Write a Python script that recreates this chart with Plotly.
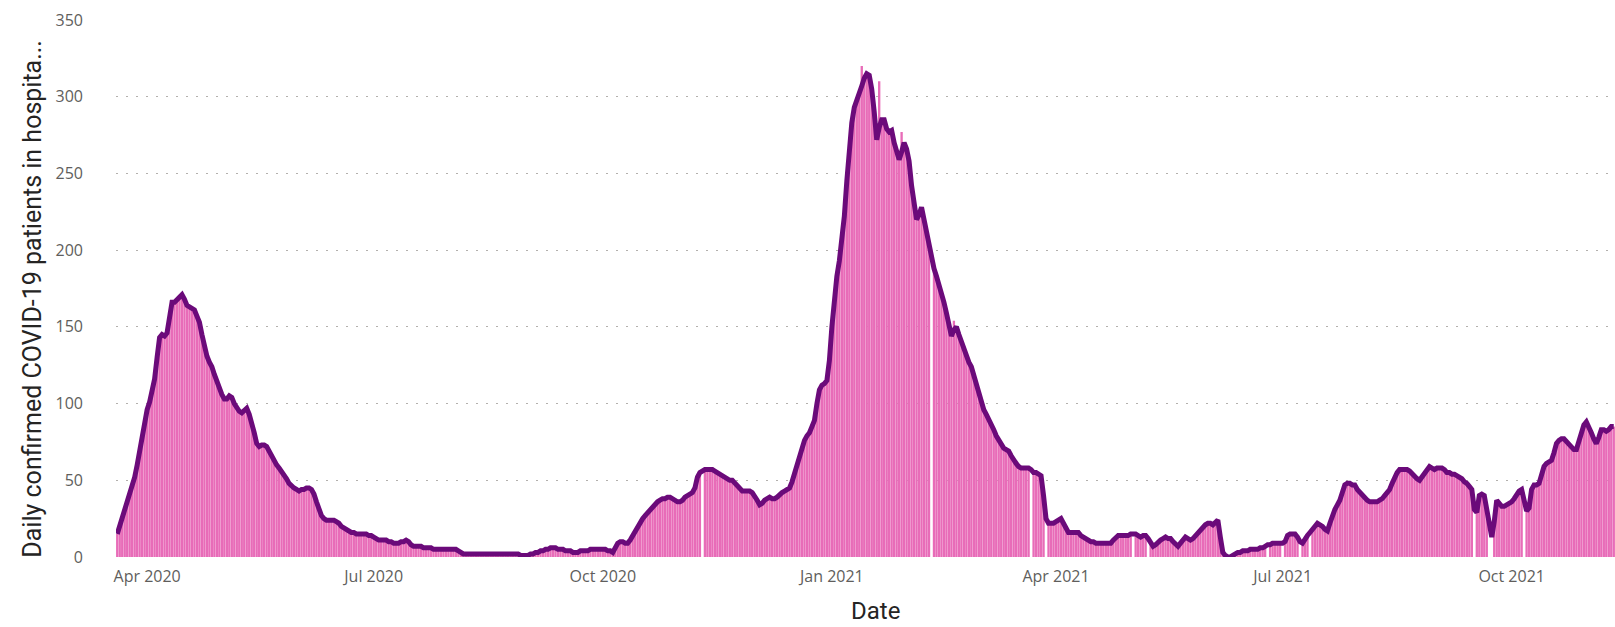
import pandas as pd
import plotly.graph_objects as go

# daily patients in hospital, first value is 20 Mar 2020
start_date = "2020-03-20"

mar_2020 = [15, 20, 26, 31, 36, 41, 46, 52, 60, 70, 80, 89]
apr_2020 = [96, 101, 107, 116, 130, 143, 145, 144, 146, 158, 166, 166, 168, 170, 171,
            168, 164, 163, 162, 161, 157, 153, 145, 136, 131, 127, 124, 119, 114, 110]
may_2020 = [106, 103, 103, 105, 104, 100, 97, 95, 94, 96, 97, 93, 88, 81, 74, 72,
            73, 73, 72, 69, 65, 62, 60, 58, 56, 54, 51, 48, 46, 45, 44]
jun_2020 = [43, 44, 44, 45, 45, 44, 41, 36, 31, 27, 25, 24, 24, 24, 24,
            23, 22, 20, 19, 18, 17, 16, 16, 15, 15, 15, 15, 15, 14, 14]
jul_2020 = [13, 12, 11, 11, 11, 11, 10, 10, 9, 9, 9, 10, 10, 11, 10, 8,
            7, 7, 7, 7, 6, 6, 6, 6, 5, 5, 5, 5, 5, 5, 5]
aug_2020 = [5, 5, 5, 4, 3, 2, 2, 2, 2, 2, 2, 2, 2, 2, 2, 2,
            2, 2, 2, 2, 2, 2, 2, 2, 2, 2, 2, 2, 1, 1, 1]
sep_2020 = [1, 2, 2, 3, 3, 4, 4, 5, 5, 6, 6, 6, 5, 5, 5,
            4, 4, 4, 3, 3, 3, 4, 4, 4, 4, 5, 5, 5, 5, 5]
oct_2020 = [5, 5, 4, 4, 3, 6, 9, 10, 10, 9, 9, 11, 14, 16, 19, 23,
            25, 27, 29, 31, 33, 35, 36, 37, 38, 38, 39, 39, 38, 37, 36]
nov_2020 = [36, 37, 39, 40, 41, 42, 45, 52, 55, 56, 57, 57, 57, 57, 56,
            55, 54, 53, 52, 51, 50, 50, 48, 46, 44, 43, 43, 43, 43, 42]
dec_2020 = [40, 37, 34, 35, 37, 38, 39, 38, 38, 39, 41, 42, 43, 44, 45, 49,
            55, 61, 67, 72, 76, 79, 81, 85, 89, 100, 109, 112, 113, 115, 128]
jan_2021 = [150, 170, 183, 193, 207, 222, 245, 266, 283, 293, 297, 301, 307, 312, 315, 314,
            305, 290, 272, 280, 285, 285, 279, 277, 278, 270, 265, 259, 264, 270, 266]
feb_2021 = [258, 242, 228, 220, 223, 228, 220, 212, 202, 193, 188, 183, 178, 173,
            166, 159, 151, 144, 148, 150, 145, 140, 135, 131, 127, 124, 118, 112]
mar_2021 = [107, 101, 96, 93, 90, 87, 83, 79, 76, 73, 71, 70, 69, 66, 63, 61,
            59, 58, 58, 58, 58, 57, 55, 55, 54, 53, 40, 25, 22, 22, 22]
apr_2021 = [23, 24, 25, 22, 18, 16, 16, 16, 16, 16, 14, 13, 12, 11, 10,
            10, 9, 9, 9, 9, 9, 9, 9, 11, 13, 14, 14, 14, 14, 14]
may_2021 = [15, 15, 15, 14, 13, 14, 14, 12, 9, 7, 8, 10, 11, 12, 13, 12,
            12, 10, 8, 7, 9, 11, 13, 12, 11, 12, 14, 16, 18, 19, 21]
jun_2021 = [22, 22, 21, 23, 24, 13, 3, 1, 0, 0, 1, 2, 3, 3, 4,
            4, 4, 5, 5, 5, 5, 6, 6, 7, 8, 8, 9, 9, 9, 9]
jul_2021 = [9, 10, 14, 15, 15, 15, 13, 10, 9, 12, 14, 16, 18, 20, 22, 21,
            20, 18, 17, 22, 27, 31, 34, 37, 42, 47, 48, 48, 47, 47, 44]
aug_2021 = [42, 40, 38, 37, 36, 36, 36, 36, 37, 38, 40, 42, 44, 48, 52, 55,
            57, 57, 57, 57, 56, 54, 53, 51, 50, 52, 55, 57, 59, 58, 57]
sep_2021 = [58, 58, 58, 57, 55, 55, 54, 54, 53, 52, 51, 49, 48, 46, 44,
            31, 29, 40, 41, 40, 31, 18, 13, 23, 37, 35, 33, 33, 34, 35]
oct_2021 = [36, 38, 41, 43, 44, 37, 30, 32, 44, 47, 47, 48, 54, 59, 61, 62,
            63, 68, 74, 76, 77, 77, 75, 73, 71, 70, 70, 76, 83, 86, 88]
nov_2021 = [85, 81, 77, 74, 78, 83, 83, 82, 83, 85, 85]

# days with no bar reported
missing_dates = ["2020-11-10", "2021-02-10", "2021-03-22", "2021-03-28", "2021-05-02",
                 "2021-05-08", "2021-06-25", "2021-07-01", "2021-07-08", "2021-07-12",
                 "2021-09-16", "2021-09-22", "2021-09-23", "2021-10-06"]
# days where the bar sits above the line
peak_dates = ["2021-01-13", "2021-01-20", "2021-01-29", "2021-02-19"]
peak_values = [320, 310, 277, 154]

patients = (mar_2020 + apr_2020 + may_2020 + jun_2020 + jul_2020 + aug_2020
            + sep_2020 + oct_2020 + nov_2020 + dec_2020 + jan_2021 + feb_2021
            + mar_2021 + apr_2021 + may_2021 + jun_2021 + jul_2021 + aug_2021
            + sep_2021 + oct_2021 + nov_2021)

df = pd.DataFrame({
    "date": pd.date_range(start_date, periods=len(patients), freq="D"),
    "patients": patients,
})
df["bar"] = df["patients"].astype(float)
df.loc[df["date"].isin(pd.to_datetime(peak_dates)), "bar"] = peak_values
df.loc[df["date"].isin(pd.to_datetime(missing_dates)), "bar"] = None

axis_font = dict(family="Open Sans, Noto Sans, sans-serif", size=16, color="#605E5C")
title_font = dict(family="Roboto, sans-serif", size=25, color="#252423")

fig = go.Figure()
fig.add_trace(
    go.Bar(
        x=df["date"],
        y=df["bar"],
        marker=dict(color="#E86CB8", line_width=0),
        hoverinfo="x+y",
    )
)
fig.add_trace(
    go.Scatter(
        x=df["date"],
        y=df["patients"],
        mode="lines",
        line=dict(color="#6B0A7A", width=5),
        hoverinfo="x+y",
    )
)

fig.update_layout(
    width=1615,
    height=627,
    margin=dict(l=116, r=0, t=20, b=70),
    plot_bgcolor="white",
    paper_bgcolor="white",
    showlegend=False,
    bargap=0.06,
    xaxis=dict(
        type="date",
        range=["2020-03-19 12:00", "2021-11-11 12:00"],
        tick0="2020-04-01",
        dtick="M3",
        tickformat="%b %Y",
        showgrid=False,
        zeroline=False,
        showline=False,
        tickfont=axis_font,
        ticklabelstandoff=8,
    ),
    yaxis=dict(
        range=[0, 350],
        dtick=50,
        showgrid=True,
        gridcolor="#B3B0AD",
        griddash="2px,8px",
        gridwidth=1,
        zeroline=False,
        showline=False,
        tickfont=axis_font,
        ticklabelstandoff=32,
    ),
    annotations=[
        dict(
            text="Daily confirmed COVID-19 patients in hospita...",
            xref="paper", yref="paper",
            x=-0.0554, y=0.481,
            xanchor="center", yanchor="middle",
            textangle=-90,
            showarrow=False,
            font=title_font,
        ),
        dict(
            text="Date",
            xref="paper", yref="paper",
            x=0.507, y=-0.1006,
            xanchor="center", yanchor="middle",
            showarrow=False,
            font=dict(title_font, size=24),
        ),
    ],
)

# drop the browser's default page margin so the figure sits at the top-left corner
fig.write_html(
    "out.html",
    config={"displayModeBar": False},
    post_script="document.body.style.margin='0';document.body.style.overflow='hidden';",
)
